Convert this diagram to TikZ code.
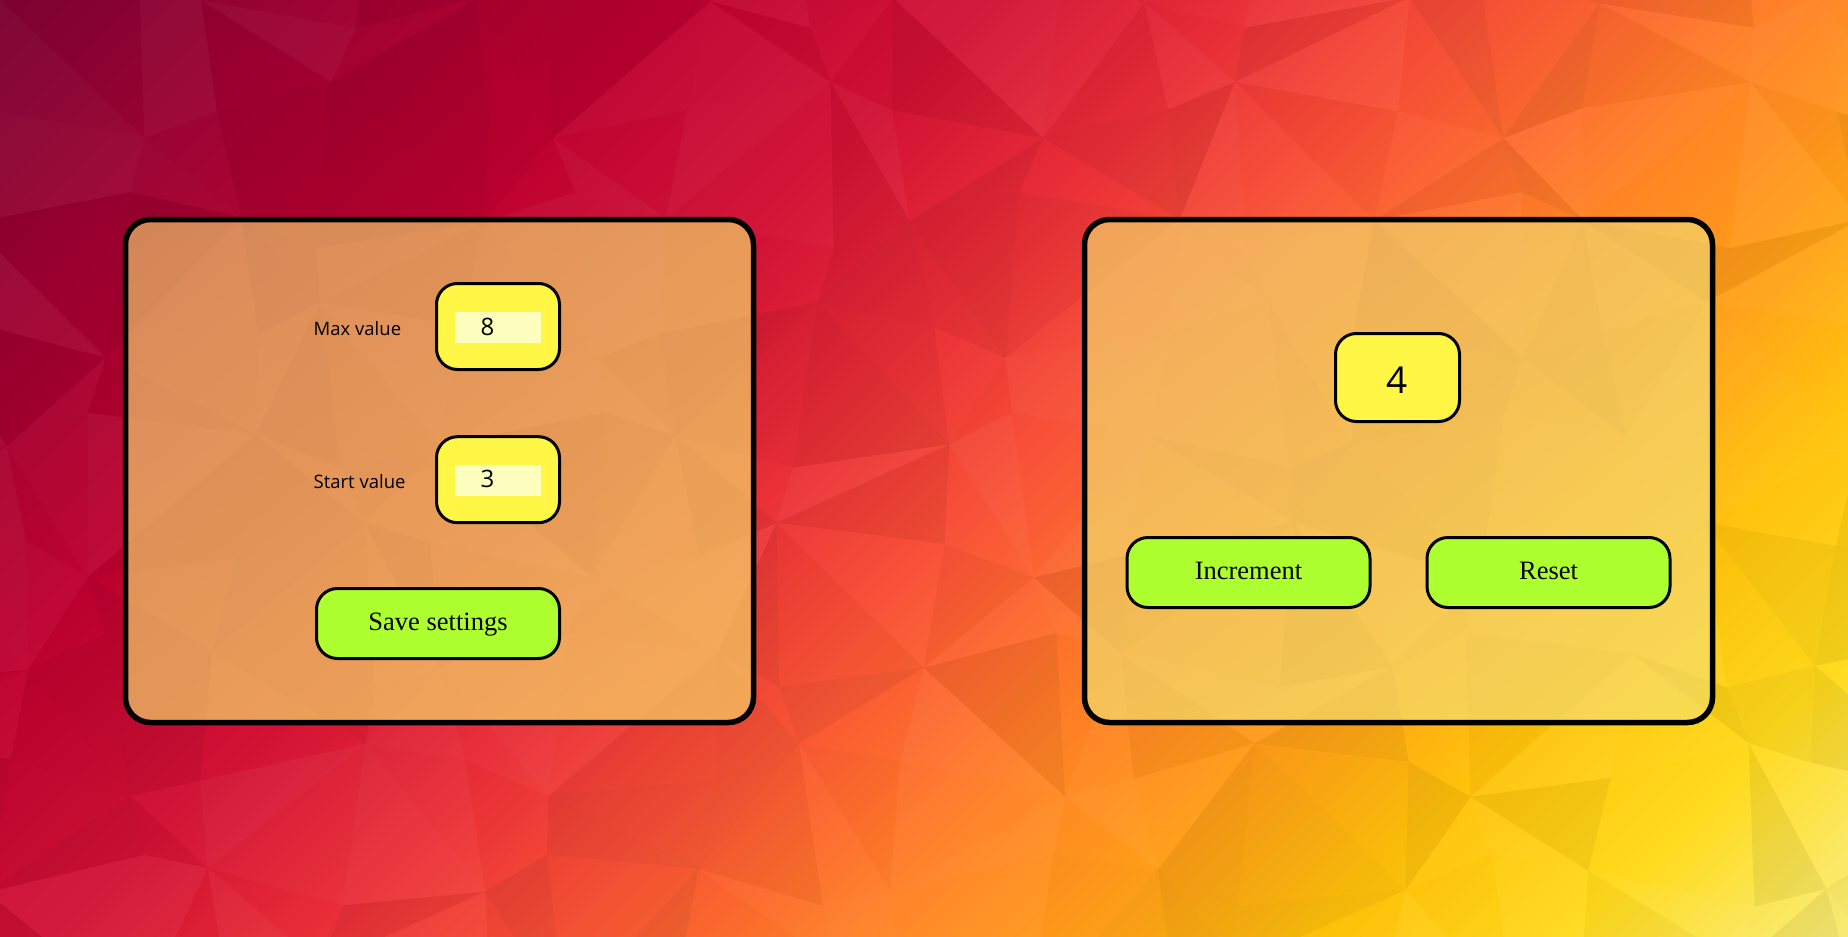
\documentclass[tikz,border=0pt]{standalone}
\usepackage{fontspec}
\usetikzlibrary{shadings}
\setmainfont{Liberation Serif}
\newfontfamily\uisans{Open Sans}
\definecolor{bgA}{HTML}{7A0030}
\definecolor{bgB}{HTML}{9A0030}
\definecolor{bgC}{HTML}{BC002F}
\definecolor{bgD}{HTML}{D21234}
\definecolor{bgE}{HTML}{E92E37}
\definecolor{bgF}{HTML}{F95236}
\definecolor{bgG}{HTML}{FF8226}
\definecolor{bgH}{HTML}{FFA216}
\definecolor{bgI}{HTML}{FFC20A}
\definecolor{bgJ}{HTML}{FFDA1C}
\definecolor{bgK}{HTML}{F9EE7A}
\definecolor{lpTL}{HTML}{D8885A}
\definecolor{lpMID}{HTML}{E89A59}
\definecolor{lpBR}{HTML}{F8AC58}
\definecolor{rpTL}{HTML}{F4A45C}
\definecolor{rpMID}{HTML}{F6C256}
\definecolor{rpBR}{HTML}{F8DC50}
\definecolor{boxyellow}{HTML}{FFF645}
\definecolor{fieldyellow}{HTML}{FCFFBE}
\definecolor{btngreen}{HTML}{ADFF2F}
\pgfdeclarehorizontalshading{bgshade}{100bp}{color(0bp)=(bgA); color(25bp)=(bgA); color(30.4bp)=(bgB); color(36.7bp)=(bgC); color(43bp)=(bgD); color(47.4bp)=(bgE); color(51.9bp)=(bgF); color(57.3bp)=(bgG); color(61.8bp)=(bgH); color(65.4bp)=(bgI); color(69.9bp)=(bgJ); color(75bp)=(bgK); color(100bp)=(bgK)}
\newcommand\lpcorner[3]{%
  \pgfmathsetmacro\lpx{(#2)*115+30*sin((#2)*127.1+(#3)*311.7)}%
  \pgfmathsetmacro\lpy{(#3)*110+28*sin((#2)*269.5+(#3)*183.3)}%
  \coordinate (#1) at (\lpx,\lpy);}
\newcommand\lowpoly[1]{%
  \foreach \ci in {-1,...,16}{%
    \foreach \cj in {-1,...,8}{%
      \pgfmathtruncatemacro\cii{\ci+1}%
      \pgfmathtruncatemacro\cjj{\cj+1}%
      \lpcorner{qa}{\ci}{\cj}%
      \lpcorner{qb}{\cii}{\cj}%
      \lpcorner{qc}{\cii}{\cjj}%
      \lpcorner{qd}{\ci}{\cjj}%
      \pgfmathsetmacro\sa{sin(\ci*53.7+\cj*97.3+11)}%
      \pgfmathsetmacro\sb{sin(\ci*71.9+\cj*29.1+47)}%
      \ifdim\sa pt>0pt\def\fca{white}\pgfmathsetmacro\oa{#1*0.045*abs(\sa)}\else\def\fca{black}\pgfmathsetmacro\oa{#1*0.06*abs(\sa)}\fi
      \ifdim\sb pt>0pt\def\fcb{white}\pgfmathsetmacro\ob{#1*0.045*abs(\sb)}\else\def\fcb{black}\pgfmathsetmacro\ob{#1*0.06*abs(\sb)}\fi
      \pgfmathtruncatemacro\cpar{mod(\ci+\cj+40,2)}%
      \ifnum\cpar=0
        \fill[\fca, fill opacity=\oa] (qa) -- (qb) -- (qc) -- cycle;
        \fill[\fcb, fill opacity=\ob] (qa) -- (qc) -- (qd) -- cycle;
      \else
        \fill[\fca, fill opacity=\oa] (qa) -- (qb) -- (qd) -- cycle;
        \fill[\fcb, fill opacity=\ob] (qb) -- (qc) -- (qd) -- cycle;
      \fi
    }%
  }%
}
\newcommand\btnfont{\fontsize{26.5pt}{30pt}\selectfont}
\newcommand\lblfont{\uisans\fontsize{18.5pt}{22pt}\selectfont}
\newcommand\numfont{\uisans\fontsize{24pt}{28pt}\selectfont}
\newcommand\bignumfont{\uisans\fontsize{37pt}{40pt}\selectfont}
\tikzset{
  panelfill/.style={rectangle, rounded corners=25pt, minimum width=628pt, minimum height=503pt, inner sep=0pt, outer sep=0pt},
  panelline/.style={draw=black, line width=5.5pt, rounded corners=25pt},
  valbox/.style={draw=black, line width=3pt, rounded corners=21pt, fill=boxyellow, minimum width=123pt, minimum height=86pt, inner sep=0pt, outer sep=0pt},
  bigbox/.style={valbox, minimum width=124pt, minimum height=88pt, font=\bignumfont, text height=31pt, text depth=0pt},
  field/.style={fill=fieldyellow, minimum width=86pt, minimum height=31pt, inner sep=0pt, outer sep=0pt},
  btn/.style={draw=black, line width=3pt, rounded corners=21pt, fill=btngreen, minimum width=243pt, minimum height=70pt, inner sep=0pt, outer sep=0pt, font=\btnfont, text height=14pt, text depth=0pt},
  lbl/.style={font=\lblfont, inner sep=0pt, anchor=base west},
  num/.style={font=\numfont, inner sep=0pt, anchor=base west},
}
\begin{document}
\begin{tikzpicture}[x=1pt, y=-1pt]
\useasboundingbox (0,0) rectangle (1848,937);
\begin{scope}
\clip (0,0) rectangle (1848,937);
% background gradient
\begin{scope}[transform canvas={rotate around={-45:(924,468.5)}}]
  \shade[shading=bgshade] (-61,-516.5) rectangle (1909,1453.5);
\end{scope}
\lowpoly{1}
% panels
\node[panelfill, shade, upper left=lpTL, upper right=lpMID, lower left=lpMID, lower right=lpBR] (lp) at (439.5,471) {};
\node[panelfill, shade, upper left=rpTL, upper right=rpMID, lower left=rpMID, lower right=rpBR] (rp) at (1398.5,471) {};
\begin{scope}
  \clip[rounded corners=25pt] (lp.north west) rectangle (lp.south east) (rp.north west) rectangle (rp.south east);
  \lowpoly{0.35}
\end{scope}
\draw[panelline] (lp.north west) rectangle (lp.south east);
\draw[panelline] (rp.north west) rectangle (rp.south east);
% left panel contents
\node[lbl] (maxlbl) at (313.5,335) {Max value};
\node[valbox] (maxbox) at (498,326.5) {};
\node[field] (maxfield) at (498.3,327) {};
\node[num] (maxnum) at (480.5,335) {8};
\node[lbl] (startlbl) at (313.5,488) {Start value};
\node[valbox] (startbox) at (498,479.7) {};
\node[field] (startfield) at (498.3,480) {};
\node[num] (startnum) at (480.5,487.5) {3};
\node[btn] (save) at (438,623.5) {Save settings};
% right panel contents
\node[bigbox] (counter) at (1397.5,377.5) {4};
\node[btn] (inc) at (1248.5,572.5) {Increment};
\node[btn] (reset) at (1548.5,572.5) {Reset};
\end{scope}
\end{tikzpicture}
\end{document}
